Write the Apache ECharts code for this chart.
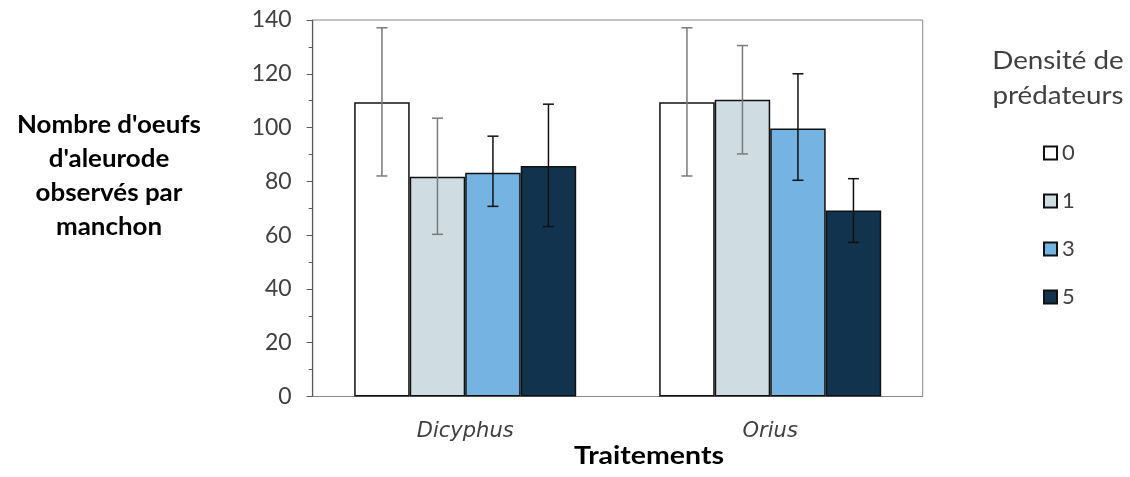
<!DOCTYPE html>
<html>
<head>
<meta charset="utf-8">
<script src="https://cdn.jsdelivr.net/npm/echarts@6/dist/echarts.min.js"></script>
<style>html,body{margin:0;padding:0;background:#fff}#c{width:1130px;height:477px}</style>
</head>
<body>
<div id="c"></div>
<script>
const categories = ['Dicyphus', 'Orius'];
const densities = ['0', '1', '3', '5'];
const means0 = [109.4, 109.4];
const means1 = [81.7, 110.3];
const means3 = [83.2, 99.7];
const means5 = [85.7, 69.2];
const low0 = [82.0, 82.0],  high0 = [137.1, 137.1];
const low1 = [60.3, 90.2],  high1 = [103.5, 130.5];
const low3 = [70.7, 80.4],  high3 = [96.8, 120.0];
const low5 = [63.2, 57.3],  high5 = [108.7, 81.0];
const yTicks = [0, 20, 40, 60, 80, 100, 120, 140];

const means = [means0, means1, means3, means5];
const lows = [low0, low1, low3, low5];
const highs = [high0, high1, high3, high5];
const colors = ['#FFFFFF', '#CFDDE2', '#75B4E2', '#12334D'];
const errColors = ['#7a7a7a', '#7a7a7a', '#111111', '#111111'];
const BAR_W = 55.5;
const FONT = 'Lato, "Liberation Sans", sans-serif';
const WIDE = '"DejaVu Sans", sans-serif';

const series = [];
densities.forEach((d, k) => {
  series.push({
    name: d, type: 'bar', data: means[k], barWidth: BAR_W, barGap: '0%',
    itemStyle: { color: colors[k], borderColor: '#111', borderWidth: 1.5 },
    emphasis: { disabled: true }, z: 2
  });
});
densities.forEach((d, k) => {
  series.push({
    name: 'err' + d, type: 'custom', z: 5,
    data: categories.map((c, i) => [i, lows[k][i], highs[k][i]]),
    encode: { x: 0, y: [1, 2] },
    renderItem: function (params, api) {
      const cx = api.coord([api.value(0), 0])[0] + (k - 1.5) * BAR_W;
      const yLo = api.coord([api.value(0), api.value(1)])[1];
      const yHi = api.coord([api.value(0), api.value(2)])[1];
      const hw = 5.5;
      const st = { stroke: errColors[k], lineWidth: 1.5 };
      return { type: 'group', children: [
        { type: 'line', shape: { x1: cx, y1: yLo, x2: cx, y2: yHi }, style: st },
        { type: 'line', shape: { x1: cx - hw, y1: yHi, x2: cx + hw, y2: yHi }, style: st },
        { type: 'line', shape: { x1: cx - hw, y1: yLo, x2: cx + hw, y2: yLo }, style: st }
      ]};
    }
  });
});

const chart = echarts.init(document.getElementById('c'), null, { renderer: 'canvas' });
chart.setOption({
  animation: false,
  backgroundColor: '#fff',
  grid: { left: 312.7, right: 207.3, top: 20, bottom: 80.5, show: true, borderColor: '#868686', borderWidth: 1, backgroundColor: 'transparent' },
  xAxis: {
    type: 'category', data: categories,
    axisLine: { lineStyle: { color: '#868686', width: 1 } },
    axisTick: { show: false },
    axisLabel: { fontFamily: WIDE, fontStyle: 'italic', fontSize: 21, color: '#404040', margin: 25 }
  },
  yAxis: {
    type: 'value', min: 0, max: 140, interval: 20,
    axisLine: { show: true, lineStyle: { color: '#595959', width: 1.2 } },
    axisTick: { show: true, length: 6, lineStyle: { color: '#595959' } },
    minorTick: { show: true, splitNumber: 2, length: 4, lineStyle: { color: '#595959' } },
    splitLine: { show: false },
    axisLabel: { fontFamily: FONT, fontSize: 23, color: '#404040', margin: 21,
      formatter: v => yTicks.includes(v) ? String(v) : '' }
  },
  legend: {
    data: densities, orient: 'vertical', left: 1038, top: 137,
    itemWidth: 13, itemHeight: 13, itemGap: 26, icon: 'rect',
    textStyle: { fontFamily: FONT, fontSize: 22, color: '#404040' },
    selectedMode: false
  },
  graphic: [
    { type: 'text', x: 109, y: 176.5, scaleX: 1.08,
      style: { text: "Nombre d'oeufs\nd'aleurode\nobservés par\nmanchon", x: 0, y: 0, fill: '#000', font: 'bold 24px ' + FONT, lineHeight: 34, textAlign: 'center', textVerticalAlign: 'middle' } },
    { type: 'text', x: 649, y: 456, scaleX: 1.14,
      style: { text: 'Traitements', x: 0, y: 0, fill: '#000', font: 'bold 25px ' + FONT, textAlign: 'center', textVerticalAlign: 'middle' } },
    { type: 'text', x: 1058, y: 78, scaleX: 1.11,
      style: { text: 'Densité de\nprédateurs', x: 0, y: 0, fill: '#404040', font: '25px ' + FONT, textAlign: 'center', textVerticalAlign: 'middle', lineHeight: 35 } }
  ],
  series: series
});
</script>
</body>
</html>
